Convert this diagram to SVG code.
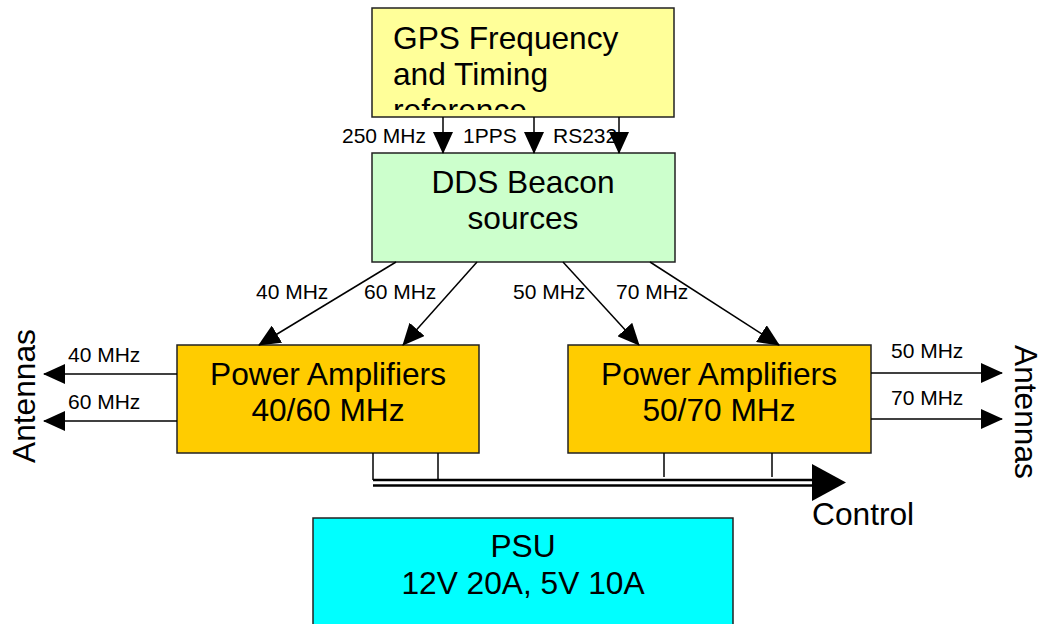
<svg xmlns="http://www.w3.org/2000/svg" width="1042" height="624" viewBox="0 0 1042 624">
<style>
.box{stroke:#222;stroke-width:1.5}
.t{font-family:"Liberation Sans",Arial,sans-serif;fill:#000}
.big{font-size:31.7px}
.sm{font-size:21px}
.ln{stroke:#000;stroke-width:1.5;fill:none}
</style>
<defs>
<marker id="ah" markerUnits="userSpaceOnUse" markerWidth="22" markerHeight="20" refX="21" refY="10" orient="auto">
<path d="M0,0 L22,10 L0,20 Z" fill="#000"/>
</marker>
<clipPath id="gpsclip"><rect x="372" y="8" width="302" height="102"/></clipPath>
</defs>
<rect width="1042" height="624" fill="#fff"/>
<g id="gps">
<rect class="box" x="372" y="8" width="302" height="109" fill="#ffff99"/>
<g clip-path="url(#gpsclip)">
<text class="t big" x="393" y="49">GPS Frequency</text>
<text class="t big" x="393" y="85">and Timing</text>
<text class="t big" x="393" y="121">reference</text>
</g>
</g>
<g id="dds">
<rect class="box" x="372" y="153" width="303" height="109" fill="#ccffcc"/>
<text class="t big" x="523" y="193" text-anchor="middle">DDS Beacon</text>
<text class="t big" x="523" y="229" text-anchor="middle">sources</text>
</g>
<g id="pa1">
<rect class="box" x="177" y="345" width="302" height="108" fill="#ffcc00"/>
<text class="t big" x="328" y="385" text-anchor="middle">Power Amplifiers</text>
<text class="t big" x="328" y="421" text-anchor="middle">40/60 MHz</text>
</g>
<g id="pa2">
<rect class="box" x="568" y="345" width="303" height="108" fill="#ffcc00"/>
<text class="t big" x="719" y="385" text-anchor="middle">Power Amplifiers</text>
<text class="t big" x="719" y="421" text-anchor="middle">50/70 MHz</text>
</g>
<g id="psu">
<rect class="box" x="313" y="518" width="420" height="120" fill="#00ffff"/>
<text class="t big" x="523" y="557" text-anchor="middle">PSU</text>
<text class="t big" x="523" y="594" text-anchor="middle">12V 20A, 5V 10A</text>
</g>
<g id="labels">
<text class="t sm" x="342" y="143">250 MHz</text>
<text class="t sm" x="463" y="143">1PPS</text>
<text class="t sm" x="553" y="143">RS232</text>
<text class="t sm" x="256" y="299">40 MHz</text>
<text class="t sm" x="364" y="299">60 MHz</text>
<text class="t sm" x="513" y="299">50 MHz</text>
<text class="t sm" x="616" y="299">70 MHz</text>
<text class="t sm" x="68" y="362">40 MHz</text>
<text class="t sm" x="68" y="409">60 MHz</text>
<text class="t sm" x="891" y="358">50 MHz</text>
<text class="t sm" x="891" y="405">70 MHz</text>
<text class="t big" transform="translate(35,396) rotate(-90)" text-anchor="middle">Antennas</text>
<text class="t big" transform="translate(1015,412) rotate(90)" text-anchor="middle">Antennas</text>
<text class="t big" x="812" y="525">Control</text>
</g>
<g id="connectors">
<line class="ln" x1="443" y1="117" x2="443" y2="153" marker-end="url(#ah)"/>
<line class="ln" x1="534" y1="117" x2="534" y2="153" marker-end="url(#ah)"/>
<line class="ln" x1="619" y1="117" x2="619" y2="153" marker-end="url(#ah)"/>
<line class="ln" x1="396" y1="262" x2="259" y2="345" marker-end="url(#ah)"/>
<line class="ln" x1="477" y1="262" x2="403" y2="345" marker-end="url(#ah)"/>
<line class="ln" x1="563" y1="262" x2="639" y2="345" marker-end="url(#ah)"/>
<line class="ln" x1="650" y1="262" x2="779" y2="345" marker-end="url(#ah)"/>
<line class="ln" x1="177" y1="374" x2="44" y2="374" marker-end="url(#ah)"/>
<line class="ln" x1="177" y1="421" x2="44" y2="421" marker-end="url(#ah)"/>
<line class="ln" x1="871" y1="373" x2="1002" y2="373" marker-end="url(#ah)"/>
<line class="ln" x1="871" y1="419" x2="1002" y2="419" marker-end="url(#ah)"/>
<line class="ln" x1="373" y1="453" x2="373" y2="480"/>
<line class="ln" x1="438" y1="453" x2="438" y2="479"/>
<line class="ln" x1="664" y1="453" x2="664" y2="477"/>
<line class="ln" x1="772" y1="453" x2="772" y2="477"/>
<line stroke="#000" stroke-width="2.5" x1="373" y1="480" x2="814" y2="480"/>
<line stroke="#000" stroke-width="2.5" x1="373" y1="485.5" x2="814" y2="485.5"/>
<path d="M812,464 L846,482.5 L812,501 Z" fill="#000"/>
</g>
</svg>
